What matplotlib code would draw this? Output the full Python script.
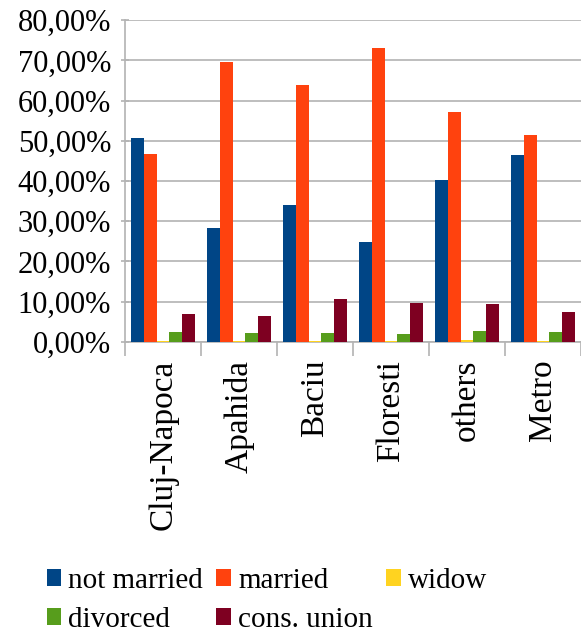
import matplotlib.pyplot as plt
import numpy as np
from matplotlib.ticker import FuncFormatter

plt.rcParams['font.family'] = ['Liberation Serif', 'DejaVu Serif']

places = ['Cluj-Napoca', 'Apahida', 'Baciu', 'Floresti', 'others', 'Metro']
not_married = [50.8, 28.3, 34.0, 24.8, 40.2, 46.4]
married = [46.6, 69.5, 63.8, 73.2, 57.1, 51.4]
widow = [0.15, 0.15, 0.15, 0.1, 0.4, 0.15]
divorced = [2.4, 2.1, 2.1, 1.9, 2.7, 2.4]
cons_union = [6.9, 6.4, 10.6, 9.6, 9.4, 7.4]

series = [
    ('not married', not_married, '#004586'),
    ('married', married, '#ff420e'),
    ('widow', widow, '#ffd320'),
    ('divorced', divorced, '#579d1c'),
    ('cons. union', cons_union, '#7e0021'),
]

fig = plt.figure(figsize=(5.81, 6.34), dpi=100)
ax = fig.add_axes([0.215, 0.461, 0.785, 0.507])

x = np.arange(len(places))
w = 0.168
bars = {}
for i, (name, vals, col) in enumerate(series):
    bars[name] = ax.bar(x - 2 * w + i * w, vals, width=w, color=col, label=name, zorder=3)

ax.set_xlim(-0.5, len(places) - 0.5)
ax.set_ylim(0, 80)
ax.set_yticks(np.arange(0, 81, 10))
ax.yaxis.set_major_formatter(FuncFormatter(lambda v, p: f'{v:.2f}%'.replace('.', ',')))
ax.grid(axis='y', color='#b3b3b3', linewidth=1.2, zorder=0)

ax.set_xticks(x)
ax.set_xticklabels(places, rotation=90, fontsize=24)
ax.set_xticks(np.arange(-0.5, len(places), 1), minor=True)
ax.tick_params(axis='x', which='major', length=0, pad=13)
ax.tick_params(axis='x', which='minor', length=10, color='#b3b3b3', width=1.2)
ax.tick_params(axis='y', labelsize=22, length=6, direction='inout', color='#b3b3b3', width=1.2, pad=7)

for s in ['top', 'right']:
    ax.spines[s].set_visible(False)
for s in ['left', 'bottom']:
    ax.spines[s].set_color('#b3b3b3')
    ax.spines[s].set_linewidth(1.2)

order = ['not married', 'divorced', 'married', 'cons. union', 'widow']
fig.legend([bars[k] for k in order], order, ncol=3, loc='lower left',
           bbox_to_anchor=(0.035, -0.04), frameon=False, fontsize=21,
           handlelength=0.5, handleheight=0.5, handletextpad=0.25,
           columnspacing=0.45, labelspacing=0.45)

fig.savefig('out.png')
